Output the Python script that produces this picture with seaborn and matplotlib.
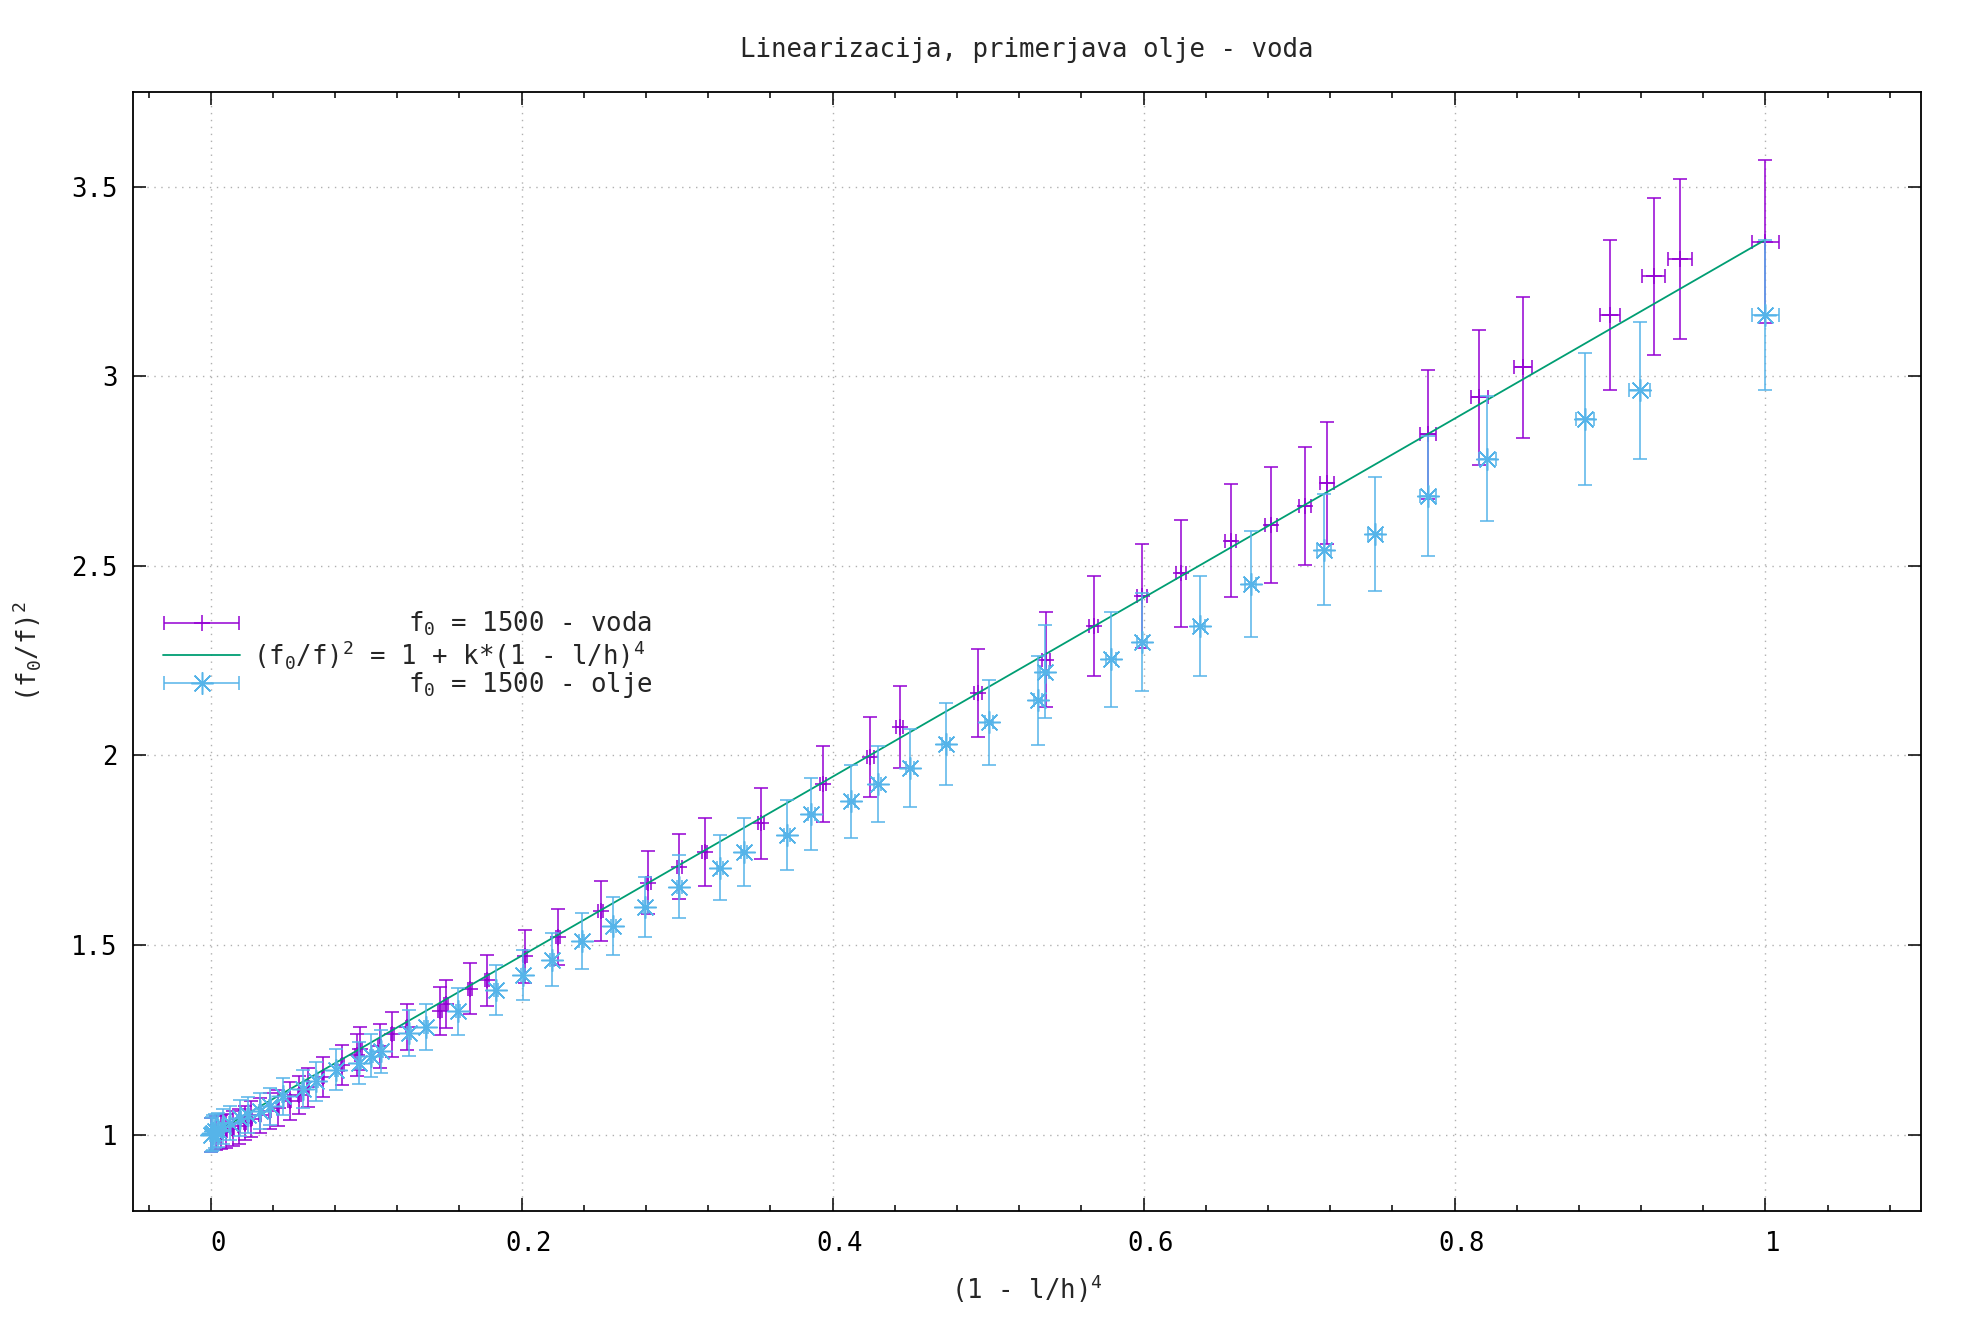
import numpy as np
import seaborn as sns
import matplotlib.pyplot as plt
from matplotlib.container import ErrorbarContainer
from matplotlib.legend_handler import HandlerErrorbar
from matplotlib.ticker import MultipleLocator, FuncFormatter
from matplotlib.transforms import ScaledTranslation

# f0 = 1500 - voda (water)
voda_x = [0.0004, 0.0036, 0.0069, 0.0100, 0.0144, 0.0182, 0.0219, 0.0262, 0.0315, 0.0380,
          0.0433, 0.0508, 0.0570, 0.0626, 0.0722, 0.0847, 0.0941, 0.0962, 0.1087, 0.1168,
          0.1265, 0.1473, 0.1511, 0.1670, 0.1780, 0.2024, 0.2232, 0.2508, 0.2815, 0.3015,
          0.3176, 0.3540, 0.3938, 0.4242, 0.4431, 0.4935, 0.5374, 0.5680, 0.5990, 0.6240,
          0.6560, 0.6820, 0.7040, 0.7180, 0.7830, 0.8160, 0.8440, 0.9000, 0.9280, 0.9450, 1.0000]
voda_y = [1.000, 1.004, 1.007, 1.011, 1.016, 1.022, 1.031, 1.042, 1.051, 1.062,
          1.070, 1.089, 1.104, 1.125, 1.153, 1.184, 1.211, 1.227, 1.235, 1.265,
          1.284, 1.326, 1.345, 1.385, 1.407, 1.471, 1.522, 1.591, 1.665, 1.707,
          1.746, 1.821, 1.925, 1.996, 2.074, 2.165, 2.253, 2.342, 2.421, 2.480,
          2.566, 2.607, 2.658, 2.718, 2.847, 2.944, 3.023, 3.161, 3.263, 3.309, 3.355]
voda_xerr = [0.0003, 0.0003, 0.0004, 0.0004, 0.0005, 0.0005, 0.0005, 0.0006, 0.0006, 0.0007,
             0.0007, 0.0008, 0.0008, 0.0008, 0.0009, 0.0009, 0.0010, 0.0010, 0.0010, 0.0011,
             0.0011, 0.0012, 0.0012, 0.0012, 0.0013, 0.0013, 0.0014, 0.0015, 0.0016, 0.0017,
             0.0017, 0.0019, 0.0020, 0.0021, 0.0022, 0.0024, 0.0026, 0.0028, 0.0030, 0.0032,
             0.0034, 0.0036, 0.0040, 0.0044, 0.0050, 0.0054, 0.0057, 0.0066, 0.0072, 0.0076, 0.0090]
voda_yerr = [0.045, 0.045, 0.045, 0.045, 0.046, 0.046, 0.046, 0.047, 0.047, 0.048,
             0.048, 0.049, 0.050, 0.051, 0.053, 0.054, 0.056, 0.057, 0.058, 0.059,
             0.061, 0.063, 0.064, 0.067, 0.068, 0.070, 0.074, 0.079, 0.083, 0.086,
             0.089, 0.094, 0.100, 0.106, 0.108, 0.117, 0.125, 0.132, 0.137, 0.142,
             0.149, 0.153, 0.156, 0.161, 0.170, 0.179, 0.186, 0.197, 0.206, 0.210, 0.214]

# f0 = 1500 - olje (oil)
olje_x = [0.0000, 0.0008, 0.0015, 0.0025, 0.0047, 0.0079, 0.0122, 0.0186, 0.0240, 0.0315,
          0.0380, 0.0465, 0.0594, 0.0680, 0.0808, 0.0954, 0.1033, 0.1098, 0.1275, 0.1387,
          0.1590, 0.1837, 0.2008, 0.2195, 0.2386, 0.2590, 0.2795, 0.3014, 0.3276, 0.3430,
          0.3706, 0.3864, 0.4120, 0.4289, 0.4497, 0.4727, 0.5004, 0.5320, 0.5365, 0.5790,
          0.5990, 0.6360, 0.6690, 0.7160, 0.7490, 0.7830, 0.8210, 0.8840, 0.9190, 1.0000]
olje_y = [1.000, 1.003, 1.006, 1.010, 1.013, 1.022, 1.031, 1.044, 1.053, 1.062,
          1.075, 1.101, 1.121, 1.141, 1.172, 1.189, 1.209, 1.220, 1.268, 1.284,
          1.326, 1.382, 1.422, 1.461, 1.511, 1.551, 1.601, 1.654, 1.704, 1.746,
          1.791, 1.845, 1.879, 1.925, 1.968, 2.030, 2.088, 2.145, 2.221, 2.254,
          2.299, 2.341, 2.452, 2.543, 2.584, 2.684, 2.782, 2.886, 2.963, 3.161]
olje_xerr = [0.0002, 0.0003, 0.0003, 0.0004, 0.0004, 0.0005, 0.0005, 0.0006, 0.0006, 0.0007,
             0.0007, 0.0008, 0.0008, 0.0009, 0.0009, 0.0010, 0.0010, 0.0011, 0.0011, 0.0012,
             0.0012, 0.0013, 0.0013, 0.0014, 0.0015, 0.0016, 0.0017, 0.0018, 0.0019, 0.0020,
             0.0021, 0.0022, 0.0023, 0.0024, 0.0025, 0.0026, 0.0027, 0.0028, 0.0028, 0.0030,
             0.0031, 0.0033, 0.0036, 0.0043, 0.0046, 0.0050, 0.0055, 0.0060, 0.0070, 0.0090]
olje_yerr = [0.045, 0.045, 0.045, 0.045, 0.045, 0.046, 0.046, 0.047, 0.047, 0.048,
             0.049, 0.050, 0.051, 0.052, 0.054, 0.055, 0.056, 0.057, 0.060, 0.061,
             0.062, 0.065, 0.066, 0.070, 0.074, 0.076, 0.079, 0.083, 0.086, 0.089,
             0.092, 0.095, 0.097, 0.100, 0.103, 0.108, 0.112, 0.117, 0.123, 0.125,
             0.129, 0.132, 0.140, 0.147, 0.150, 0.158, 0.165, 0.174, 0.181, 0.197]

# fitted line (f0/f)^2 = 1 + k*(1 - l/h)^4, end points
fit_x = [0.0, 1.0]
fit_y = [1.0, 3.36]

sns.set_theme(style="ticks")
plt.rcParams['font.family'] = ['DejaVu Sans Mono', 'DejaVu Sans']
plt.rcParams['font.size'] = 18.5
plt.rcParams['mathtext.default'] = 'regular'

c_voda = '#9400d3'
c_fit = '#009e73'
c_olje = '#56b4e9'
star = (8, 2, 0)

fig = plt.figure(figsize=(19.67, 13.37), dpi=100)
ax = fig.add_axes([0.0676, 0.0945, 0.909, 0.8369])

eb_kw = dict(elinewidth=1.1, capsize=5, capthick=1.1, mew=1.1, ls='none')
ax.errorbar(voda_x, voda_y, xerr=voda_xerr, yerr=voda_yerr, marker='+', ms=11,
            color=c_voda, zorder=3, **eb_kw)
sns.lineplot(x=fit_x, y=fit_y, color=c_fit, lw=1.3, ax=ax, zorder=4)
ax.errorbar(olje_x, olje_y, xerr=olje_xerr, yerr=olje_yerr, marker=star, ms=16,
            color=c_olje, zorder=5, **eb_kw)

# legend proxies (horizontal bar only, like gnuplot)
p_voda = ax.errorbar([np.nan], [np.nan], xerr=[1], marker='+', ms=11, color=c_voda, **eb_kw)
p_olje = ax.errorbar([np.nan], [np.nan], xerr=[1], marker=star, ms=16, color=c_olje, **eb_kw)
p_fit = plt.Line2D([], [], color=c_fit, lw=1.3)

lab_fit = r"(f$_0$/f)$^2$ = 1 + k*(1 - l/h)$^4$"
lab_voda = " " * 10 + r"f$_0$ = 1500 - voda"
lab_olje = " " * 10 + r"f$_0$ = 1500 - olje"
ax.legend([p_voda, p_fit, p_olje], [lab_voda, lab_fit, lab_olje],
          loc='upper left', bbox_to_anchor=(0.0168, 0.537), frameon=False,
          borderaxespad=0, borderpad=0, handlelength=3, handletextpad=0.5,
          labelspacing=-0.03, fontsize=18.5,
          handler_map={ErrorbarContainer: HandlerErrorbar(xerr_size=1.45)})

ax.set_xlim(-0.05, 1.1)
ax.set_ylim(0.8, 3.75)
ax.xaxis.set_major_locator(MultipleLocator(0.2))
ax.xaxis.set_minor_locator(MultipleLocator(0.04))
ax.yaxis.set_major_locator(MultipleLocator(0.5))
fmt = FuncFormatter(lambda v, p: f"{round(v, 6) + 0:g}")
ax.xaxis.set_major_formatter(fmt)
ax.yaxis.set_major_formatter(fmt)
ax.tick_params(which='both', direction='in', top=True, right=True, colors='black',
               width=1.1, labelsize=18.5)
ax.tick_params(which='major', length=9.5)
ax.tick_params(which='minor', length=4.5)
ax.tick_params(axis='x', pad=15)
ax.tick_params(axis='y', pad=11)
for s in ax.spines.values():
    s.set_color('black')
    s.set_linewidth(1.3)

ax.grid(True, which='major', color='#b0b0b0', linestyle=(0, (1, 4)), lw=1.0)
ax.set_axisbelow(True)

ax.set_title("Linearizacija, primerjava olje - voda", pad=25, fontsize=18.5)
ax.set_xlabel(r"(1 - l/h)$^4$", fontsize=18.5)
ax.set_ylabel(r"(f$_0$/f)$^2$", fontsize=18.5)
ax.xaxis.set_label_coords(0.5, -0.0554)
ax.yaxis.set_label_coords(-0.0503, 0.5)

# gnuplot puts x tick labels slightly right of the tick
shift = ScaledTranslation(5 / 72, 0, fig.dpi_scale_trans)
for lbl in ax.get_xticklabels():
    lbl.set_transform(lbl.get_transform() + shift)

fig.savefig('out.png', dpi=100)
